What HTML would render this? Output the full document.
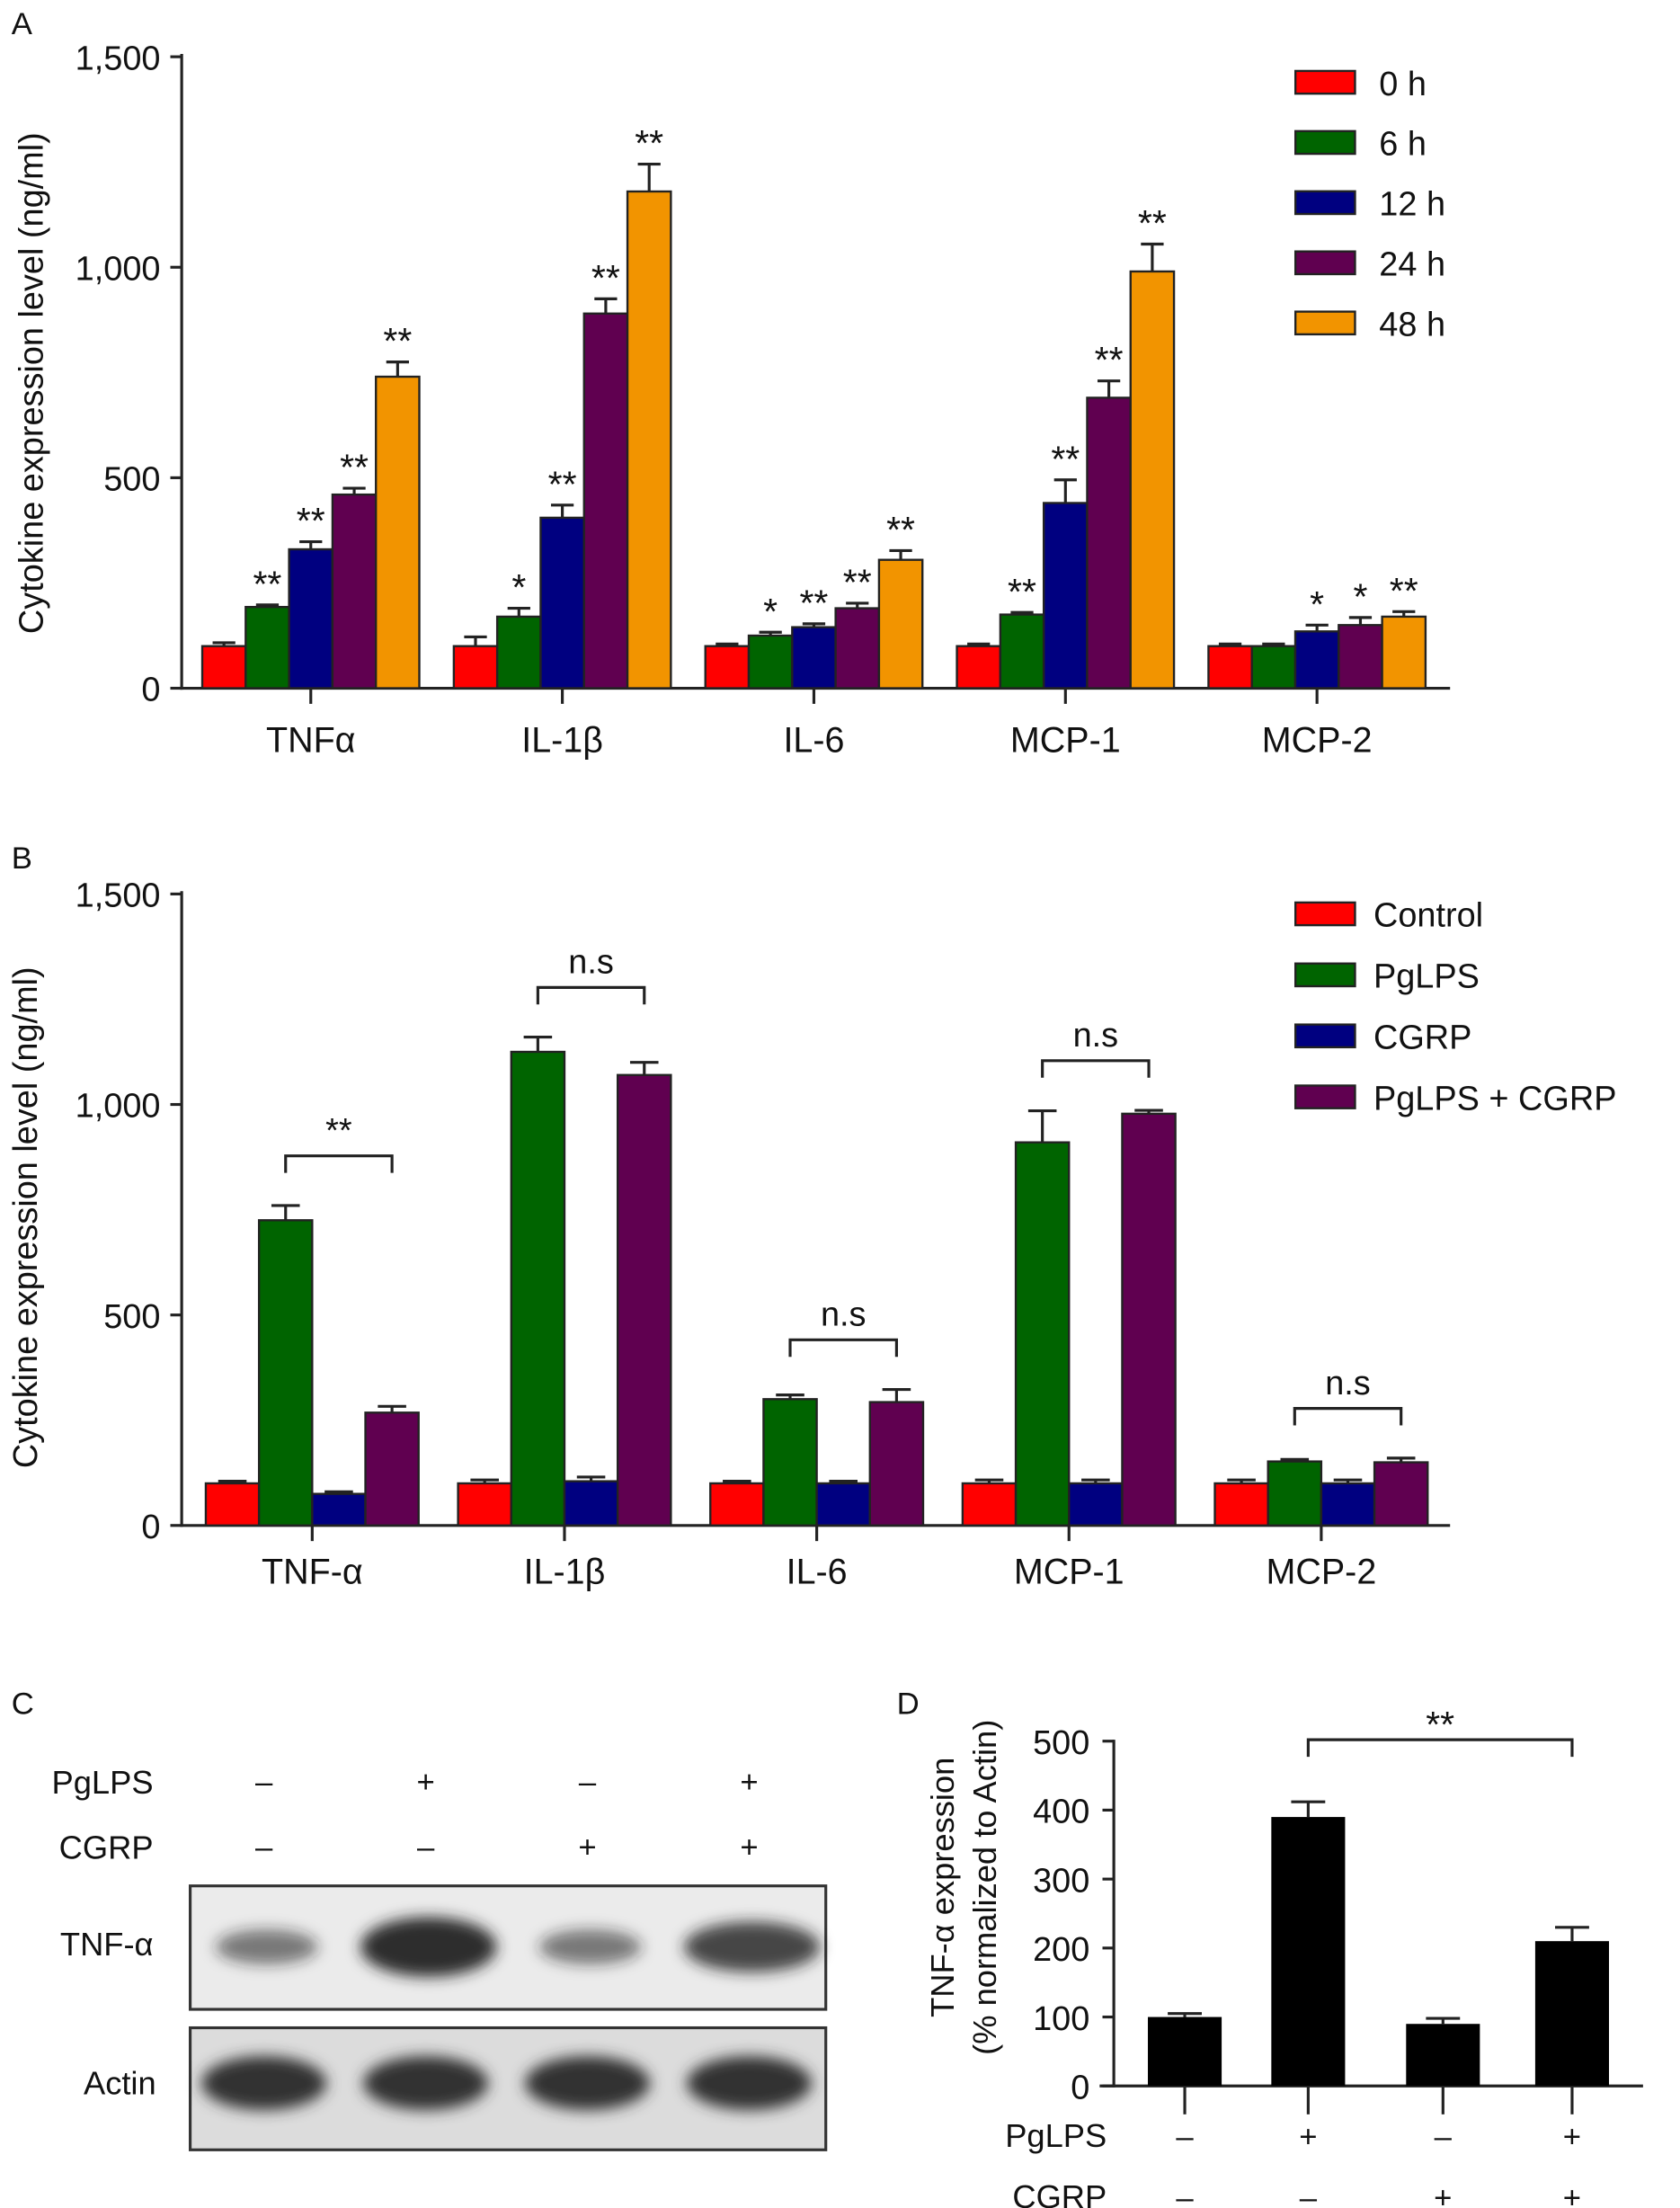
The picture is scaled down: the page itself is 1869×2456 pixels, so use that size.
<!DOCTYPE html>
<html><head><meta charset="utf-8"><style>
html,body{margin:0;padding:0;background:#fff;}
svg{display:block;font-family:"Liberation Sans",sans-serif;}
</style></head><body>
<svg id="fig" width="1869" height="2456" viewBox="0 0 1184 1556" xmlns="http://www.w3.org/2000/svg">
<defs><filter id="blur" x="-30%" y="-60%" width="160%" height="220%"><feGaussianBlur stdDeviation="5"/></filter></defs>
</svg>
<script>
// Panel A data
const catsA=["TNFα","IL-1β","IL-6","MCP-1","MCP-2"];
const seriesA=["0 h","6 h","12 h","24 h","48 h"];
const colorsA=["#ff0000","#006400","#000080","#600050","#f29400"];
const valsA0=[100,100,100,100,100];
const valsA6=[193,170,125,175,100];
const valsA12=[330,405,145,440,135];
const valsA24=[460,890,190,690,150];
const valsA48=[740,1180,305,990,170];
const errA0=[8,22,5,5,5];
const errA6=[5,20,8,5,5];
const errA12=[18,30,8,55,15];
const errA24=[15,35,12,40,18];
const errA48=[35,65,22,65,12];
const starsA0=["","","","",""];
const starsA6=["**","*","*","**",""];
const starsA12=["**","**","**","**","*"];
const starsA24=["**","**","**","**","*"];
const starsA48=["**","**","**","**","**"];
const ticksAB=[0,500,1000,1500];
const tickLabelsAB=["0","500","1,000","1,500"];
// Panel B data
const catsB=["TNF-α","IL-1β","IL-6","MCP-1","MCP-2"];
const seriesB=["Control","PgLPS","CGRP","PgLPS + CGRP"];
const colorsB=["#ff0000","#006400","#000080","#600050"];
const valsBctl=[100,100,100,100,100];
const valsBlps=[725,1125,300,910,152];
const valsBcgrp=[75,105,100,100,100];
const valsBboth=[268,1070,293,978,150];
const errBctl=[5,8,5,8,8];
const errBlps=[35,35,10,75,5];
const errBcgrp=[5,10,5,8,8];
const errBboth=[15,30,30,8,10];
const sigB=["**","n.s","n.s","n.s","n.s"];
// Panel D data
const valsD=[100,390,90,210];
const errD=[5,22,8,20];
const ticksD=[0,100,200,300,400,500];
const lpsSigns=["–","+","–","+"];
const cgrpSigns=["–","–","+","+"];

const svg=document.getElementById('fig');
const NS="http://www.w3.org/2000/svg";
function mk(tag,attrs,parent){const e=document.createElementNS(NS,tag);for(const k in attrs)e.setAttribute(k,attrs[k]);(parent||svg).appendChild(e);return e;}
function txt(s,x,y,size,anchor,parent){const t=mk('text',{x:x,y:y,'font-size':size,'text-anchor':anchor||'middle',fill:'#111'},parent);t.textContent=s;return t;}
function line(x1,y1,x2,y2,w,parent){return mk('line',{x1:x1,y1:y1,x2:x2,y2:y2,stroke:'#222','stroke-width':w||2},parent);}

// ---------- Panel A ----------
const gA=mk('g',{});


const yA=v=>485-v*(445/1500);
const xA=i=>219+i*177.3;
const bwA=30.6;
line(128,38,128,486,2,gA);line(127,485,1022,485,2,gA);
ticksAB.forEach((t,i)=>{line(120,yA(t),128,yA(t),2,gA);const l=txt(tickLabelsAB[i],113,yA(t)+9,24,'end',gA);});
catsA.forEach((c,i)=>{line(xA(i),485,xA(i),496,2,gA);const l=txt(c,xA(i),530,25,'middle',gA);});
const allA=[valsA0,valsA6,valsA12,valsA24,valsA48],allEA=[errA0,errA6,errA12,errA24,errA48],allSA=[starsA0,starsA6,starsA12,starsA24,starsA48];
catsA.forEach((c,i)=>{
 allA.forEach((s,j)=>{
  const x=xA(i)-bwA*2.5+j*bwA, v=s[i], e=allEA[j][i];
  const r=mk('rect',{x:x,y:yA(v),width:bwA,height:485-yA(v),fill:colorsA[j],stroke:'#222','stroke-width':1.5},gA);
  
  
  line(x+bwA/2,yA(v),x+bwA/2,yA(v+e),2,gA);line(x+bwA/2-8,yA(v+e),x+bwA/2+8,yA(v+e),2,gA);
  if(allSA[j][i]){const st=txt(allSA[j][i],x+bwA/2,yA(v+e)-6,26,'middle',gA);}
 });
});
txt("A",8,24,22,'start');
const ytA=txt("Cytokine expression level (ng/ml)",0,0,24,'middle',gA);ytA.setAttribute('transform','translate(30,270) rotate(-90)');

seriesA.forEach((s,j)=>{const y=58+j*42.4;const g=mk('g',{},gA);
 
 mk('rect',{x:913,y:y-8,width:42,height:16,fill:colorsA[j],stroke:'#222','stroke-width':1.5},g);txt(s,972,y+9,24,'start',g);});

// ---------- Panel B ----------
const gB=mk('g',{});


const yB=v=>1075-v*(445/1500);
const xB=i=>220+i*177.8;
const bwB=37.5;
line(128,628,128,1076,2,gB);line(127,1075,1022,1075,2,gB);
ticksAB.forEach((t,i)=>{line(120,yB(t),128,yB(t),2,gB);const l=txt(tickLabelsAB[i],113,yB(t)+9,24,'end',gB);});
catsB.forEach((c,i)=>{line(xB(i),1075,xB(i),1086,2,gB);const l=txt(c,xB(i),1116,25,'middle',gB);});
const allB=[valsBctl,valsBlps,valsBcgrp,valsBboth],allEB=[errBctl,errBlps,errBcgrp,errBboth];
catsB.forEach((c,i)=>{
 allB.forEach((s,j)=>{
  const x=xB(i)-bwB*2+j*bwB, v=s[i], e=allEB[j][i];
  const r=mk('rect',{x:x,y:yB(v),width:bwB,height:1075-yB(v),fill:colorsB[j],stroke:'#222','stroke-width':1.5},gB);
  
  
  line(x+bwB/2,yB(v),x+bwB/2,yB(v+e),2,gB);line(x+bwB/2-10,yB(v+e),x+bwB/2+10,yB(v+e),2,gB);
 });
 const x1=xB(i)-bwB*0.5, x2=xB(i)+bwB*1.5;
 const top=Math.max(allB[1][i]+allEB[1][i],allB[3][i]+allEB[3][i]);
 const by=yB(top)-35;
 const br=mk('path',{d:`M${x1},${by+12} V${by} H${x2} V${by+12}`,fill:'none',stroke:'#222','stroke-width':2},gB);
 
 
 txt(sigB[i],(x1+x2)/2,by-10,24,'middle',gB);
});
txt("B",8,612,22,'start');
const ytB=txt("Cytokine expression level (ng/ml)",0,0,24,'middle',gB);ytB.setAttribute('transform','translate(26,858) rotate(-90)');

seriesB.forEach((s,j)=>{const y=644+j*43;const g=mk('g',{},gB);
 
 mk('rect',{x:913,y:y-8,width:42,height:16,fill:colorsB[j],stroke:'#222','stroke-width':1.5},g);txt(s,968,y+9,24,'start',g);});

// ---------- Panel C (western blot) ----------
const gC=mk('g',{});


txt("C",8,1208,22,'start',gC);
const laneX=[186,300,414,528];
txt("PgLPS",108,1264,23,'end',gC);txt("CGRP",108,1310,23,'end',gC);
laneX.forEach((x,i)=>{txt(lpsSigns[i],x,1263,22,'middle',gC);txt(cgrpSigns[i],x,1309,22,'middle',gC);});
mk('rect',{x:134,y:1329,width:448,height:87,fill:'#ebebeb',stroke:'#333','stroke-width':2},gC);
mk('rect',{x:134,y:1429,width:448,height:86,fill:'#dcdcdc',stroke:'#333','stroke-width':2},gC);
const tnfI=[0.45,1,0.45,0.8];
laneX.forEach((x,i)=>{
 mk('ellipse',{cx:x+2,cy:1372,rx:36+i%2*12,ry:5+tnfI[i]*16,fill:'#222','fill-opacity':0.25+tnfI[i]*0.7,filter:'url(#blur)'},gC);
 mk('ellipse',{cx:x,cy:1468,rx:44,ry:19,fill:'#333',filter:'url(#blur)'},gC);
});
txt("TNF-α",108,1378,23,'end',gC);txt("Actin",110,1476,23,'end',gC);

// ---------- Panel D ----------
const gD=mk('g',{});


txt("D",632,1208,22,'start',gD);
const yD=v=>1470-v*(243/500);
const xD=[835,922,1017,1108];
const bwD=52;
line(785,1226,785,1471,2,gD);line(775,1470,1158,1470,2,gD);
ticksD.forEach(t=>{line(777,yD(t),785,yD(t),2,gD);const l=txt(String(t),768,yD(t)+9,24,'end',gD);});
valsD.forEach((v,i)=>{const x=xD[i]-bwD/2;
 const r=mk('rect',{x:x,y:yD(v),width:bwD,height:1470-yD(v),fill:'#000'},gD);
 
 
 line(xD[i],yD(v),xD[i],yD(v+errD[i]),2,gD);line(xD[i]-12,yD(v+errD[i]),xD[i]+12,yD(v+errD[i]),2,gD);
 line(xD[i],1470,xD[i],1490,2,gD);
 txt(lpsSigns[i],xD[i],1513,22,'middle',gD);txt(cgrpSigns[i],xD[i],1556,22,'middle',gD);
});
mk('path',{d:`M${xD[1]},1238 V1226 H${xD[3]} V1238`,fill:'none',stroke:'#222','stroke-width':2},gD);
txt("**",(xD[1]+xD[3])/2,1224,26,'middle',gD);
txt("PgLPS",780,1513,23,'end',gD);txt("CGRP",780,1556,23,'end',gD);
const t1=txt("TNF-α expression",0,0,23,'middle',gD);t1.setAttribute('transform','translate(672,1330) rotate(-90)');
const t2=txt("(% normalized to Actin)",0,0,23,'middle',gD);t2.setAttribute('transform','translate(702,1330) rotate(-90)');

</script>
</body></html>
